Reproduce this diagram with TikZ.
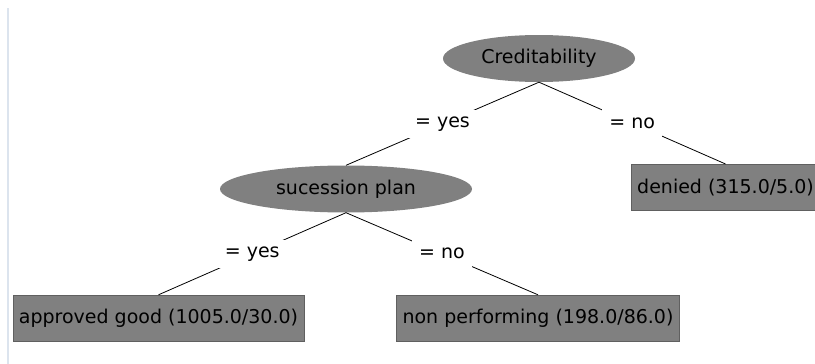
\documentclass[tikz,border=0pt]{standalone}
\usepackage{fontspec}
\setmainfont{DejaVu Sans}
\usepackage{xcolor}
\usepackage{tikz}
\usetikzlibrary{shapes.geometric}
\definecolor{nodegray}{RGB}{128,128,128}
\definecolor{rimgray}{RGB}{96,96,96}
\definecolor{panelline}{RGB}{220,228,238}

\begin{document}
\begin{tikzpicture}[x=1pt, y=-1pt, every node/.style={font=\fontsize{19}{22}\selectfont},
  attr/.style={ellipse, fill=nodegray, minimum height=47pt},
  leaf/.style={rectangle, fill=nodegray, draw=rimgray, minimum height=46pt, inner xsep=6pt},
  branch/.style={fill=white, inner xsep=7pt, inner ysep=4pt, minimum height=28pt},
  treeline/.style={black, line width=0.8pt}]
\useasboundingbox (0,0) rectangle (815,364);
\clip (0,0) rectangle (815,364);

% Panel border
\draw[panelline, line width=1.2pt] (8,8) -- (8,364);

% Split nodes
\node[attr, minimum width=192pt] (cred) at (539,58.5) {Creditability};
\node[attr, minimum width=252pt] (plan) at (346,189) {sucession plan};

% Leaves
\node[leaf, anchor=north west] (denied) at (631,164) {denied (315.0/5.0)};
\node[leaf] (good) at (158.5,318) {approved good (1005.0/30.0)};
\node[leaf] (nonperf) at (538,318) {non performing (198.0/86.0)};

% Branches
\draw[treeline] (cred.south) -- node[branch] {= yes} (plan.north);
\draw[treeline] (cred.south) -- node[branch] {= no} (denied.north);
\draw[treeline] (plan.south) -- node[branch] {= yes} (good.north);
\draw[treeline] (plan.south) -- node[branch] {= no} (nonperf.north);
\end{tikzpicture}
\end{document}
